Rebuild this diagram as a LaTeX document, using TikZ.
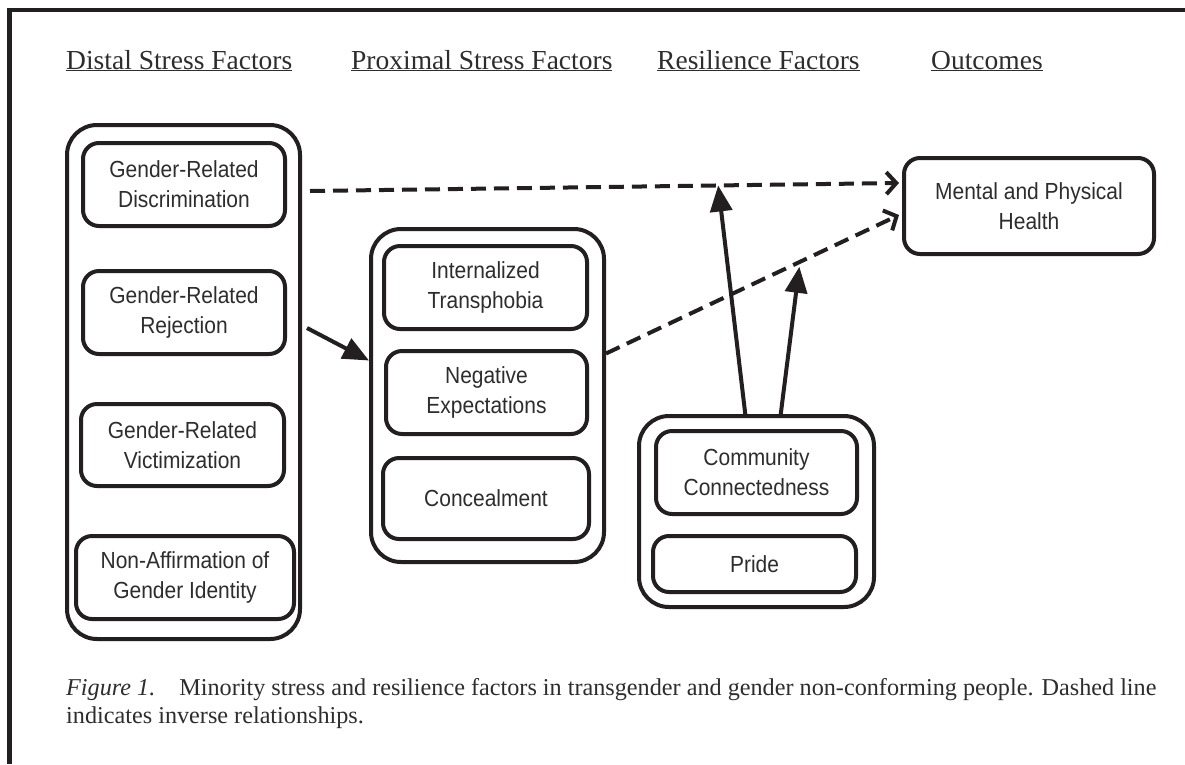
\documentclass[tikz,border=0pt]{standalone}
\usepackage{fontspec}
\setmainfont{Liberation Serif}
\newfontfamily\boxfont[FakeStretch=0.9]{Liberation Sans}
\usetikzlibrary{arrows.meta,calc}
\definecolor{ink}{RGB}{35,31,32}
\definecolor{txt}{RGB}{45,45,45}

\begin{document}
\begin{tikzpicture}[x=1pt,y=-1pt,
  frame/.style={draw=ink,line width=4.5},
  group/.style={draw=ink,line width=4,rounded corners=30,inner sep=0},
  item/.style={draw=ink,line width=4,rounded corners=16,inner sep=0,align=center,
    font=\boxfont\fontsize{23.3}{30}\selectfont,text=txt},
  heading/.style={anchor=base west,inner sep=0,font=\fontsize{27.5}{32}\selectfont,text=txt},
  solidarrow/.style={draw=ink,line width=4,-{Triangle[length=26,width=22]}},
  dasharrow/.style={draw=ink,line width=4,dash pattern=on 15 off 8,
    -{Straight Barb[length=10,width=22]}}
]
\useasboundingbox[fill=white] (0,0) rectangle (1185,764);

% open frame along the top and left edges
\draw[frame] (9.5,764) -- (9.5,10) -- (1185,10);

% column headings
\node[heading] (h1) at (66,69) {\underline{Distal Stress Factors}};
\node[heading] (h2) at (351,69) {\underline{Proximal Stress Factors}};
\node[heading] (h3) at (657,69) {\underline{Resilience Factors}};
\node[heading] (h4) at (931,69) {\underline{Outcomes}};

% distal stress factors
\node[group,minimum width=233,minimum height=514] (distal) at (183.5,382) {};
\node[item,minimum width=202,minimum height=83] (disc) at (184,184.5) {Gender-Related\\Discrimination};
\node[item,minimum width=202,minimum height=83] (rej) at (184,312.5) {Gender-Related\\Rejection};
\node[item,minimum width=203,minimum height=82] (vict) at (182.5,445) {Gender-Related\\Victimization};
\node[item,minimum width=218,minimum height=83] (nonaff) at (185,577.5) {Non-Affirmation of\\Gender Identity};

% proximal stress factors
\node[group,minimum width=233,minimum height=333] (prox) at (487.5,395.5) {};
\node[item,minimum width=203,minimum height=83] (intern) at (485.5,287.5) {Internalized\\Transphobia};
\node[item,minimum width=201,minimum height=83] (negexp) at (486.5,392.5) {Negative\\Expectations};
\node[item,minimum width=206,minimum height=81] (conceal) at (486,498.5) {Concealment};

% resilience factors
\node[group,minimum width=235,minimum height=191] (resil) at (756.5,511.5) {};
\node[item,minimum width=201,minimum height=83] (comm) at (756.5,472.5) {Community\\Connectedness};
\node[item,minimum width=203,minimum height=56] (pride) at (754.5,564) {Pride};

% outcome
\node[item,minimum width=250,minimum height=96] (health) at (1029,206) {Mental and Physical\\Health};

% inverse relationships
\draw[dasharrow] ([shift={(8,68)}]distal.north east)
  -- coordinate[pos=0.693] (m1) ([shift={(-3,27)}]health.north west);
\draw[dasharrow] ([shift={(0,-42)}]prox.east)
  -- coordinate[pos=0.662] (m2) ([shift={(-3,9)}]health.west);

% direct paths
\draw[solidarrow] ([shift={(5,-54)}]distal.east) -- ([shift={(0,-35)}]prox.west);
\draw[solidarrow] ([shift={(-11,2)}]resil.north) -- (m1);
\draw[solidarrow,shorten >=5] ([shift={(24,2)}]resil.north) -- (m2);

% caption
\node[anchor=base west,inner sep=0,align=left,font=\fontsize{24.2}{28}\selectfont,text=txt] (caption) at (66,723)
  {\textit{Figure 1.}\hspace{24pt}Minority stress and resilience factors in transgender and gender non-conforming people. Dashed line\\indicates inverse relationships.};
\end{tikzpicture}
\end{document}
